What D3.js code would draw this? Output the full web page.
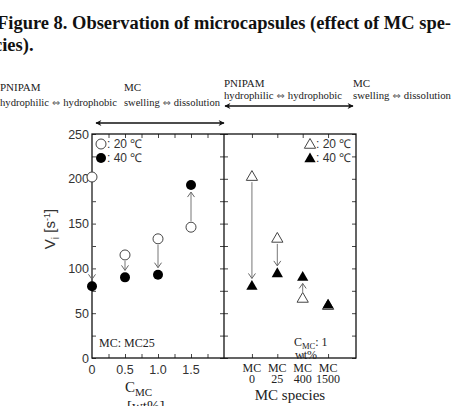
<!DOCTYPE html>
<html>
<head>
<meta charset="utf-8" />
<style>
  body { margin: 0; background: #fff; }
  svg { width: 452px; height: 406px; display: block; }
  .serif { font-family: "Liberation Serif", "Times New Roman", serif; fill: #222; }
  .sans { font-family: "Liberation Sans", Arial, sans-serif; fill: #333; }
  .dbl { font-family: "DejaVu Sans", sans-serif; font-size: 10px; fill: #555; }
</style>
</head>
<body>
<svg id="chart"></svg>
<script src="https://cdnjs.cloudflare.com/ajax/libs/d3/7.8.5/d3.min.js"></script>
<script>
// left panel: MC25 at different concentrations
var concentrations = [0, 0.5, 1.0, 1.5];
var concV20 = [202, 115, 133, 146];
var concV40 = [80, 90, 93, 193];

// right panel: MC species at 1 wt%
var species = ['MC0', 'MC25', 'MC400', 'MC1500'];
var speciesTop = ['MC', 'MC', 'MC', 'MC'];
var speciesBottom = ['0', '25', '400', '1500'];
var speciesV20 = [203, 134, 67, 59];
var speciesV40 = [81, 95, 91, 60];

var yTicks = [0, 50, 100, 150, 200, 250];
var xTicks = [0, 0.5, 1.0, 1.5];

var svg = d3.select('#chart');

var pL = 92, pM = 224, pR = 356, pT = 134, pB = 358;

var y = d3.scaleLinear().domain([0, 250]).range([pB, pT]);
var xc = d3.scaleLinear().domain([0, 2]).range([pL, pM]);
var xs = d3.scalePoint().domain(species).range([pM, pR]).padding(1.1);

// title
var title = svg.append('text').attr('class', 'serif')
    .style('font-weight', 'bold').style('font-size', '18.5px').style('fill', '#111');
title.append('tspan').attr('x', -3).attr('y', 29)
    .attr('textLength', 454).attr('lengthAdjust', 'spacingAndGlyphs')
    .text('Figure 8. Observation of microcapsules (effect of MC spe-');
title.append('tspan').attr('x', -6).attr('y', 51).text('cies).');

// header annotations
function note(x, yy, len, a, b) {
    var t = svg.append('text').attr('class', 'serif').style('font-size', '11px')
        .attr('x', x).attr('y', yy);
    if (len) t.attr('textLength', len).attr('lengthAdjust', 'spacingAndGlyphs');
    t.append('tspan').text(a);
    if (b) {
        t.append('tspan').attr('class', 'dbl').text(' \u21d4 ');
        t.append('tspan').text(b);
    }
}
note(0, 91, 0, 'PNIPAM');
note(0, 106, 117, 'hydrophilic', 'hydrophobic');
note(124, 91, 0, 'MC');
note(124, 106, 96, 'swelling', 'dissolution');
note(224, 87, 0, 'PNIPAM');
note(224, 99, 118, 'hydrophilic', 'hydrophobic');
note(353, 87, 0, 'MC');
note(353, 99, 98, 'swelling', 'dissolution');

var defs = svg.append('defs');
defs.append('marker').attr('id', 'bigHead')
    .attr('viewBox', '0 -5 10 10').attr('refX', 9).attr('refY', 0)
    .attr('markerWidth', 9).attr('markerHeight', 6).attr('markerUnits', 'userSpaceOnUse')
    .attr('orient', 'auto-start-reverse')
    .append('path').attr('d', 'M0,-5L10,0L0,5L3,0Z').attr('fill', '#111');
defs.append('marker').attr('id', 'smallHead')
    .attr('viewBox', '-6 -6 8 12').attr('refX', 0).attr('refY', 0)
    .attr('markerWidth', 8).attr('markerHeight', 12).attr('markerUnits', 'userSpaceOnUse')
    .attr('orient', 'auto')
    .append('path').attr('d', 'M-5,-3.5L0,0L-5,3.5').attr('fill', 'none')
    .attr('stroke', '#666').attr('stroke-width', 1);

// double arrows over the header
[[pM, pR - 3, 106], [pL + 3, pM, 123]].forEach(function (a) {
    svg.append('line').attr('x1', a[0] + 1).attr('x2', a[1]).attr('y1', a[2]).attr('y2', a[2])
        .attr('stroke', '#111').attr('stroke-width', 1.5)
        .attr('marker-start', 'url(#bigHead)').attr('marker-end', 'url(#bigHead)');
});

// ticks (all pointing inward)
function noDomain(s) { s.select('.domain').remove(); }
var g = svg.append('g');
var minor = d3.range(0, 251, 25);
g.append('g').attr('transform', 'translate(' + pL + ',0)')
    .call(d3.axisLeft(y).tickValues(minor).tickSize(-4).tickFormat('')).call(noDomain);
g.append('g').attr('transform', 'translate(' + pR + ',0)')
    .call(d3.axisRight(y).tickValues(minor).tickSize(-4).tickFormat('')).call(noDomain);
g.append('g').attr('transform', 'translate(' + pM + ',0)')
    .call(d3.axisRight(y).tickValues(minor).tickSize(4).tickFormat('')).call(noDomain);
g.append('g').attr('transform', 'translate(' + pM + ',0)')
    .call(d3.axisLeft(y).tickValues(minor).tickSize(4).tickFormat('')).call(noDomain);
var cMinor = d3.range(0.25, 2, 0.25);
g.append('g').attr('transform', 'translate(0,' + pB + ')')
    .call(d3.axisBottom(xc).tickValues(cMinor).tickSize(-4).tickFormat('')).call(noDomain);
g.append('g').attr('transform', 'translate(0,' + pT + ')')
    .call(d3.axisTop(xc).tickValues(cMinor).tickSize(-4).tickFormat('')).call(noDomain);
g.append('g').attr('transform', 'translate(0,' + pB + ')')
    .call(d3.axisBottom(xs).tickSize(-4).tickFormat('')).call(noDomain);
g.append('g').attr('transform', 'translate(0,' + pT + ')')
    .call(d3.axisTop(xs).tickSize(-4).tickFormat('')).call(noDomain);
g.selectAll('.tick line').attr('stroke', '#444');

// frame
svg.append('rect').attr('x', pL).attr('y', pT).attr('width', pR - pL).attr('height', pB - pT)
    .attr('fill', 'none').attr('stroke', '#111').attr('stroke-width', 1.3);
svg.append('line').attr('x1', pM).attr('x2', pM).attr('y1', pT).attr('y2', pB)
    .attr('stroke', '#111').attr('stroke-width', 1.3);

// tick labels
svg.selectAll('.ylab').data(yTicks).enter().append('text').attr('class', 'sans ylab')
    .style('font-size', '12.5px').attr('text-anchor', 'end')
    .attr('x', pL - 3).attr('y', function (d) { return y(d) + 4.5; })
    .text(function (d) { return d; });
svg.selectAll('.xlab').data(xTicks).enter().append('text').attr('class', 'sans xlab')
    .style('font-size', '12.5px').attr('text-anchor', 'middle')
    .attr('x', function (d) { return xc(d); }).attr('y', pB + 16)
    .text(function (d) { return d === 0 ? '0' : d3.format('.1f')(d); });
svg.selectAll('.slab1').data(species).enter().append('text').attr('class', 'serif slab1')
    .style('font-size', '12px').attr('text-anchor', 'middle')
    .attr('x', function (d) { return xs(d); }).attr('y', pB + 14)
    .text(function (d, i) { return speciesTop[i]; });
svg.selectAll('.slab2').data(species).enter().append('text').attr('class', 'serif slab2')
    .style('font-size', '12px').attr('text-anchor', 'middle')
    .attr('x', function (d) { return xs(d); }).attr('y', pB + 25)
    .text(function (d, i) { return speciesBottom[i]; });

// axis titles
var cl = svg.append('text').attr('class', 'serif').style('font-size', '15px').attr('x', 125).attr('y', 392);
cl.append('tspan').text('C');
cl.append('tspan').attr('dy', 4).style('font-size', '11px').text('MC');
svg.append('text').attr('class', 'serif').style('font-size', '15px').attr('x', 127).attr('y', 411).text('[wt%]');
svg.append('text').attr('class', 'serif').style('font-size', '15px').attr('text-anchor', 'middle')
    .attr('x', 290).attr('y', 400).text('MC species');
var vl = svg.append('text').attr('class', 'sans').style('font-size', '15px').attr('text-anchor', 'middle')
    .attr('transform', 'translate(55,229) rotate(-90)');
vl.append('tspan').text('V');
vl.append('tspan').attr('dy', 4).style('font-size', '10px').text('i');
vl.append('tspan').attr('dy', -4).text(' [s');
vl.append('tspan').attr('dy', -5).style('font-size', '9px').text('-1');
vl.append('tspan').attr('dy', 5).text(']');

// panel notes
svg.append('text').attr('class', 'serif').style('font-size', '12px').attr('x', 99).attr('y', 347).text('MC: MC25');
var cn = svg.append('text').attr('class', 'serif').style('font-size', '12px').attr('x', 294).attr('y', 346);
cn.append('tspan').text('C');
cn.append('tspan').attr('dy', 3).style('font-size', '8.5px').text('MC');
cn.append('tspan').attr('dy', -3).text(': 1');
svg.append('text').attr('class', 'serif').style('font-size', '12px').attr('x', 295).attr('y', 359).text('wt%');

// connecting arrows from 20 C value to 40 C value
var r = 5;
function arrows(keys, v20, v40, xf, gap) {
    var idx = d3.range(keys.length).filter(function (i) {
        return Math.abs(y(v20[i]) - y(v40[i])) > 2 * gap + 4;
    });
    svg.append('g').selectAll('line').data(idx).enter().append('line')
        .attr('x1', function (i) { return xf(keys[i]); }).attr('x2', function (i) { return xf(keys[i]); })
        .attr('y1', function (i) { var dir = v40[i] < v20[i] ? 1 : -1; return y(v20[i]) + dir * gap; })
        .attr('y2', function (i) { var dir = v40[i] < v20[i] ? 1 : -1; return y(v40[i]) - dir * (gap + 1); })
        .attr('stroke', '#777').attr('stroke-width', 1)
        .attr('marker-end', 'url(#smallHead)');
}
arrows(concentrations, concV20, concV40, xc, r + 1);
arrows(species, speciesV20, speciesV40, xs, r + 1);

// markers
svg.selectAll('.c20').data(concentrations).enter().append('circle')
    .attr('cx', function (d) { return xc(d); }).attr('cy', function (d, i) { return y(concV20[i]); })
    .attr('r', r).attr('fill', '#fff').attr('stroke', '#444').attr('stroke-width', 1);
svg.selectAll('.c40').data(concentrations).enter().append('circle')
    .attr('cx', function (d) { return xc(d); }).attr('cy', function (d, i) { return y(concV40[i]); })
    .attr('r', r).attr('fill', '#000');
var tri = d3.symbol().type(d3.symbolTriangle).size(55);
svg.selectAll('.t20').data(species).enter().append('path')
    .attr('d', tri).attr('transform', function (d, i) { return 'translate(' + xs(d) + ',' + (y(speciesV20[i]) + 1) + ')'; })
    .attr('fill', '#fff').attr('stroke', '#444').attr('stroke-width', 1);
svg.selectAll('.t40').data(species).enter().append('path')
    .attr('d', tri).attr('transform', function (d, i) { return 'translate(' + xs(d) + ',' + (y(speciesV40[i]) + 1) + ')'; })
    .attr('fill', '#000');

// legends
svg.append('circle').attr('cx', 101).attr('cy', 144).attr('r', 5).attr('fill', '#fff').attr('stroke', '#444');
svg.append('circle').attr('cx', 101).attr('cy', 158).attr('r', 5).attr('fill', '#000');
svg.append('text').attr('class', 'sans').style('font-size', '12px').attr('x', 107).attr('y', 148).text(': 20 \u2103');
svg.append('text').attr('class', 'sans').style('font-size', '12px').attr('x', 107).attr('y', 162).text(': 40 \u2103');
svg.append('path').attr('d', tri).attr('transform', 'translate(310,145)').attr('fill', '#fff').attr('stroke', '#444');
svg.append('path').attr('d', tri).attr('transform', 'translate(310,159)').attr('fill', '#000');
svg.append('text').attr('class', 'sans').style('font-size', '12px').attr('x', 316).attr('y', 148).text(': 20 \u2103');
svg.append('text').attr('class', 'sans').style('font-size', '12px').attr('x', 316).attr('y', 162).text(': 40 \u2103');
</script>
</body>
</html>
